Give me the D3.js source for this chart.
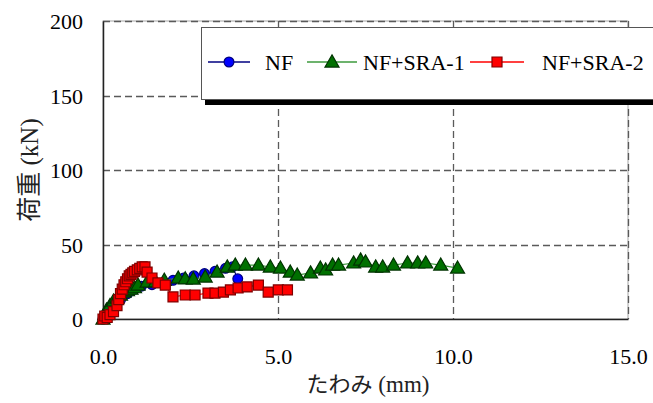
<!DOCTYPE html>
<html><head><meta charset="utf-8">
<script src="https://cdn.jsdelivr.net/npm/d3@7"></script>
<style>
body{margin:0;background:#fff;}
svg{display:block;}
</style></head>
<body><svg id="c" width="653" height="403"></svg>
<script>
const xTicks = [0, 5, 10, 15];
const xTickLabels = ["0.0", "5.0", "10.0", "15.0"];
const yTicks = [0, 50, 100, 150, 200];
const yTickLabels = ["0", "50", "100", "150", "200"];
const seriesNames = ["NF", "NF+SRA-1", "NF+SRA-2"];
const xTitleJa = "たわみ";
const xTitleUnit = " (mm)";
const yTitleJa = "荷重";
const yTitleUnit = " (kN)";

const nfX = [0,0.1,0.3,0.5,0.7,0.9,1.1,1.4,1.7,2.0,2.3,2.6,2.9,3.2,3.5,3.7,3.85];
const nfY = [0,3,8,13,17,20,22,23,24,26,27.5,29,30.5,32,34,35,27];

const sra1X = [0,0.05,0.1,0.2,0.3,0.4,0.5,0.6,0.7,0.8,0.9,1.0,1.26,1.5,1.75,2.15,2.35,2.58,2.92,3.26,3.55,3.78,4.07,4.44,4.78,5.07,5.35,5.55,5.93,6.21,6.36,6.56,6.73,7.16,7.36,7.5,7.79,7.99,8.3,8.7,8.99,9.22,9.65,10.13];
const sra1Y = [0,3,6,9,12,14,16,18,19,20,21,22.8,24.8,25,26,27.5,27,26.8,28.2,31.5,34.9,36.2,36.2,36.2,34.9,34.2,31.5,29.5,30.9,34.2,32.9,36.2,36.2,37.6,39.6,38.3,34.9,34.9,36.2,37.6,37.6,37.6,36.2,34.2];

const sra2X = [0,0.05,0.12,0.2,0.3,0.4,0.45,0.5,0.55,0.6,0.65,0.7,0.75,0.8,0.85,0.9,0.98,1.05,1.12,1.2,1.26,1.4,1.57,1.78,2.0,2.35,2.63,3.0,3.2,3.44,3.64,3.86,4.12,4.44,4.72,5.01,5.27];
const sra2Y = [0,2,1,3,5,9,13,17,20,23,25,27,29,30,31,32,33,34,35,35,31.5,27.5,24.2,22.8,14.8,16.1,16.1,17.4,17.4,18.1,19.5,20.8,21.5,22.8,18.1,19.5,19.5];

const SERIF = '"Liberation Serif"';
const CJK = '"Noto Sans CJK JP"';
const L = 103, R = 628, T = 21, B = 319;
const svg = d3.select("#c");
const x = d3.scaleLinear().domain([0, 15]).range([L, R]);
const y = d3.scaleLinear().domain([0, 200]).range([B, T]);

svg.append("rect").attr("x", L).attr("y", T).attr("width", R - L).attr("height", B - T)
  .attr("fill", "#fff").attr("stroke", "#a6a6a6").attr("stroke-width", 1);

const grid = svg.append("g");
grid.selectAll("line.h").data(yTicks.filter(d => d > 0)).join("line")
  .attr("x1", L).attr("x2", R).attr("y1", d => Math.round(y(d)) + 0.5).attr("y2", d => Math.round(y(d)) + 0.5)
  .attr("stroke", "#5a5a5a").attr("stroke-width", 1.3).attr("stroke-dasharray", "7,4");
grid.selectAll("line.v").data(xTicks.filter(d => d > 0)).join("line")
  .attr("y1", T).attr("y2", B).attr("x1", d => Math.round(x(d)) + 0.5).attr("x2", d => Math.round(x(d)) + 0.5)
  .attr("stroke", "#5a5a5a").attr("stroke-width", 1.3).attr("stroke-dasharray", "7,4");

const ax = svg.append("g").attr("transform", `translate(0,${B})`)
  .call(d3.axisBottom(x).tickValues(xTicks).tickSize(0).tickFormat((d, i) => xTickLabels[i]));
ax.select(".domain").attr("stroke", "#222").attr("stroke-width", 1.5);
ax.selectAll("text").attr("dy", 0).attr("y", 45).attr("fill", "#000")
  .style("font-family", SERIF).style("font-size", "22px");

const ay = svg.append("g").attr("transform", `translate(${L},0)`)
  .call(d3.axisLeft(y).tickValues(yTicks).tickSize(0).tickFormat((d, i) => yTickLabels[i]));
ay.select(".domain").attr("stroke", "#222").attr("stroke-width", 1.5);
ay.selectAll("text").attr("x", -20).attr("dy", "0.35em").attr("fill", "#000")
  .style("font-family", SERIF).style("font-size", "22px");

const xt = svg.append("text").attr("x", 368).attr("y", 392).attr("text-anchor", "middle").attr("fill", "#222");
xt.append("tspan").style("font-family", CJK).style("font-size", "22px").text(xTitleJa);
xt.append("tspan").style("font-family", SERIF).style("font-size", "23px").text(xTitleUnit);
const yt = svg.append("text").attr("transform", "translate(38,170) rotate(-90)").attr("text-anchor", "middle").attr("fill", "#222");
yt.append("tspan").style("font-family", CJK).style("font-size", "25px").text(yTitleJa);
yt.append("tspan").style("font-family", SERIF).style("font-size", "25px").text(yTitleUnit);

const series = [
  {name: seriesNames[0], xs: nfX, ys: nfY, line: "#000080", fill: "#0000ff", stroke: "#000080", shape: "circle"},
  {name: seriesNames[1], xs: sra1X, ys: sra1Y, line: "#3c9a3c", fill: "#007000", stroke: "#003300", shape: "triangle"},
  {name: seriesNames[2], xs: sra2X, ys: sra2Y, line: "#ff0000", fill: "#ff0000", stroke: "#800000", shape: "square"}
];
const symbolOf = s => s === "circle" ? d3.symbol().type(d3.symbolCircle).size(75)
  : s === "triangle" ? d3.symbol().type(d3.symbolTriangle).size(85)
  : d3.symbol().type(d3.symbolSquare).size(100);

const lineGen = d3.line().x(d => x(d[0])).y(d => y(d[1]));
series.forEach(s => {
  const pts = s.xs.map((v, i) => [v, s.ys[i]]);
  const g = svg.append("g");
  g.append("path").attr("d", lineGen(pts)).attr("fill", "none").attr("stroke", s.line).attr("stroke-width", 1.2);
  g.selectAll("path.m").data(pts).join("path").attr("class", "m")
    .attr("d", symbolOf(s.shape)())
    .attr("transform", d => `translate(${x(d[0])},${y(d[1]) + (s.shape === "triangle" ? 1 : 0)})`)
    .attr("fill", s.fill).attr("stroke", s.stroke).attr("stroke-width", 1.2);
});

const lg = svg.append("g");
lg.append("rect").attr("x", 205).attr("y", 32).attr("width", 460).attr("height", 73).attr("fill", "#000");
lg.append("rect").attr("x", 201.5).attr("y", 27.5).attr("width", 460).attr("height", 72)
  .attr("fill", "#fff").attr("stroke", "#555").attr("stroke-width", 1);
const lx = [[208, 250, 265], [307, 357, 363], [470, 524, 542]];
series.forEach((s, i) => {
  const [a, b, t] = lx[i];
  const ly = 62;
  lg.append("line").attr("x1", a).attr("x2", b).attr("y1", ly).attr("y2", ly).attr("stroke", s.line).attr("stroke-width", 1.5);
  lg.append("path").attr("d", symbolOf(s.shape)()).attr("transform", `translate(${(a + b) / 2},${ly + (s.shape === "triangle" ? 1 : 0)})`)
    .attr("fill", s.fill).attr("stroke", s.stroke).attr("stroke-width", 1.2);
  lg.append("text").attr("x", t).attr("y", ly).attr("dy", "0.35em").attr("fill", "#000")
    .style("font-family", SERIF).style("font-size", "22px").text(s.name);
});
</script></body></html>
